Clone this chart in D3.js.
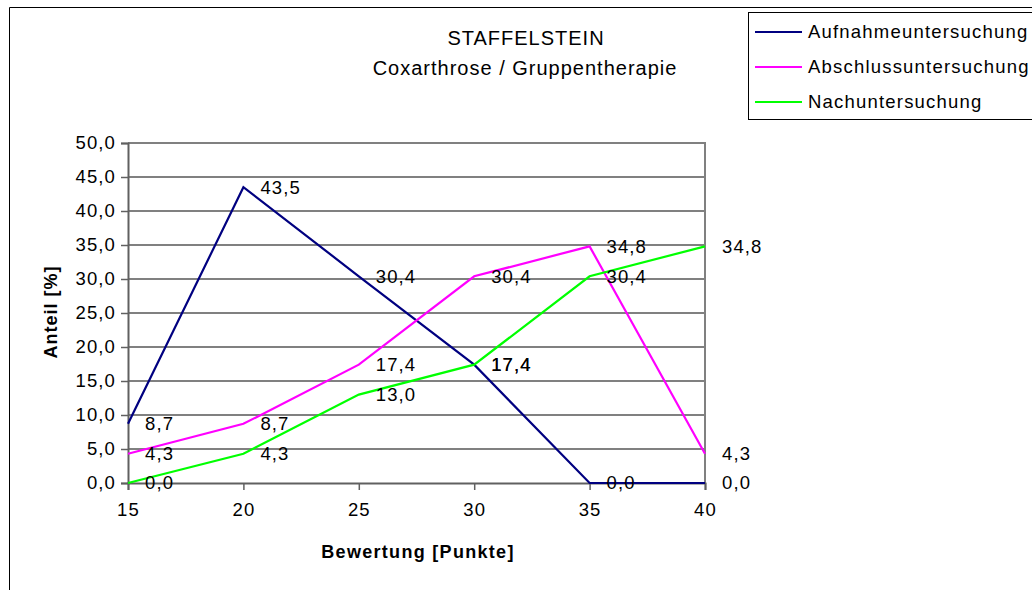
<!DOCTYPE html>
<html>
<head>
<meta charset="utf-8">
<script src="https://cdn.jsdelivr.net/npm/d3@7"></script>
<style>
  html, body { margin: 0; padding: 0; background: #fff; }
  svg { display: block; font-family: "Liberation Sans", Arial, sans-serif; }
</style>
</head>
<body>
<svg id="chart" width="1032" height="590"></svg>
<script>
// Score classes (x) and share of patients in percent per examination
const punkte = [15, 20, 25, 30, 35, 40];
const aufnahme = [8.7, 43.5, 30.4, 17.4, 0.0, 0.0];
const abschluss = [4.3, 8.7, 17.4, 30.4, 34.8, 4.3];
const nachuntersuchung = [0.0, 4.3, 13.0, 17.4, 30.4, 34.8];
const seriesNames = ["Aufnahmeuntersuchung", "Abschlussuntersuchung", "Nachuntersuchung"];
const seriesColors = ["#000080", "#FF00FF", "#00FF00"];
const yTicks = [0, 5, 10, 15, 20, 25, 30, 35, 40, 45, 50];
const xTicks = [15, 20, 25, 30, 35, 40];

const series = [aufnahme, abschluss, nachuntersuchung].map((vals, i) => ({
  name: seriesNames[i],
  color: seriesColors[i],
  points: vals.map((v, j) => ({ x: punkte[j], y: v }))
}));

const svg = d3.select("#chart");
const plot = { left: 128, right: 705, top: 143, bottom: 483 };
const FONT = 18.5, SPACING = 1.1;

const x = d3.scaleLinear().domain([15, 40]).range([plot.left, plot.right]);
const y = d3.scaleLinear().domain([0, 50]).range([plot.bottom, plot.top]);
const fmt = v => d3.format(".1f")(v).replace(".", ",");

// Outer chart frame (top and left edges)
svg.append("path")
  .attr("d", "M9.5,590 L9.5,7.5 L1032,7.5")
  .attr("fill", "none").attr("stroke", "#000").attr("stroke-width", 1);

// Titles
svg.append("text").attr("x", 526).attr("y", 45).attr("text-anchor", "middle")
  .attr("font-size", 20).attr("letter-spacing", 1).attr("fill", "#000").text("STAFFELSTEIN");
svg.append("text").attr("x", 525).attr("y", 75).attr("text-anchor", "middle")
  .attr("font-size", 20).attr("letter-spacing", 1).attr("fill", "#000").text("Coxarthrose / Gruppentherapie");

// Horizontal gridlines
svg.append("g").selectAll("line").data(yTicks.filter(t => t > 0)).join("line")
  .attr("x1", plot.left).attr("x2", plot.right)
  .attr("y1", d => Math.round(y(d))).attr("y2", d => Math.round(y(d)))
  .attr("stroke", "#808080").attr("stroke-width", 2);

// Right edge of plot area
svg.append("line")
  .attr("x1", plot.right).attr("x2", plot.right)
  .attr("y1", plot.top - 1).attr("y2", plot.bottom)
  .attr("stroke", "#808080").attr("stroke-width", 2);

// Y axis
const yAxis = svg.append("g").attr("transform", `translate(${plot.left},0)`)
  .call(d3.axisLeft(y).tickValues(yTicks).tickFormat(fmt).tickSize(7).tickPadding(5));
yAxis.select(".domain").attr("stroke", "#606060").attr("stroke-width", 2);
yAxis.selectAll(".tick line").attr("stroke", "#606060").attr("stroke-width", 1.5);
yAxis.selectAll(".tick text").attr("font-size", FONT).attr("letter-spacing", SPACING)
  .attr("fill", "#000").attr("font-family", "Liberation Sans, Arial, sans-serif");

// X axis
const xAxis = svg.append("g").attr("transform", `translate(0,${plot.bottom})`)
  .call(d3.axisBottom(x).tickValues(xTicks).tickFormat(d3.format("d")).tickSize(7).tickPadding(13));
xAxis.select(".domain").attr("stroke", "#606060").attr("stroke-width", 2);
xAxis.selectAll(".tick line").attr("stroke", "#606060").attr("stroke-width", 1.5);
xAxis.selectAll(".tick text").attr("font-size", FONT).attr("letter-spacing", SPACING)
  .attr("fill", "#000").attr("font-family", "Liberation Sans, Arial, sans-serif");

// Axis titles
svg.append("text").attr("x", 418).attr("y", 558).attr("text-anchor", "middle")
  .attr("font-size", 18).attr("font-weight", "bold").attr("letter-spacing", 1.3).attr("fill", "#000")
  .text("Bewertung [Punkte]");
svg.append("text")
  .attr("transform", "translate(57,312) rotate(-90)")
  .attr("text-anchor", "middle")
  .attr("font-size", 18).attr("font-weight", "bold").attr("letter-spacing", 1).attr("fill", "#000")
  .text("Anteil [%]");

// Lines
const line = d3.line().x(d => x(d.x)).y(d => y(d.y));
svg.append("g").selectAll("path").data(series).join("path")
  .attr("d", d => line(d.points))
  .attr("fill", "none")
  .attr("stroke", d => d.color)
  .attr("stroke-width", 2.2)
  .attr("stroke-linejoin", "miter");

// Data labels right of each point
svg.append("g").selectAll("g").data(series).join("g")
  .selectAll("text").data(d => d.points).join("text")
  .attr("x", d => x(d.x) + 17)
  .attr("y", d => y(d.y))
  .attr("dy", "0.35em")
  .attr("font-size", FONT).attr("letter-spacing", SPACING).attr("fill", "#000")
  .text(d => fmt(d.y));

// Legend
const legend = svg.append("g");
legend.append("rect")
  .attr("x", 748.5).attr("y", 12.5).attr("width", 300).attr("height", 107)
  .attr("fill", "#fff").attr("stroke", "#000").attr("stroke-width", 1);
const rows = legend.selectAll("g").data(series).join("g")
  .attr("transform", (d, i) => `translate(0,${32 + i * 35})`);
rows.append("line").attr("x1", 755).attr("x2", 802).attr("y1", 0).attr("y2", 0)
  .attr("stroke", d => d.color).attr("stroke-width", 2);
rows.append("text").attr("x", 808).attr("y", 0).attr("dy", "0.35em")
  .attr("font-size", FONT).attr("letter-spacing", 1.2).attr("fill", "#000").text(d => d.name);
</script>
</body>
</html>
